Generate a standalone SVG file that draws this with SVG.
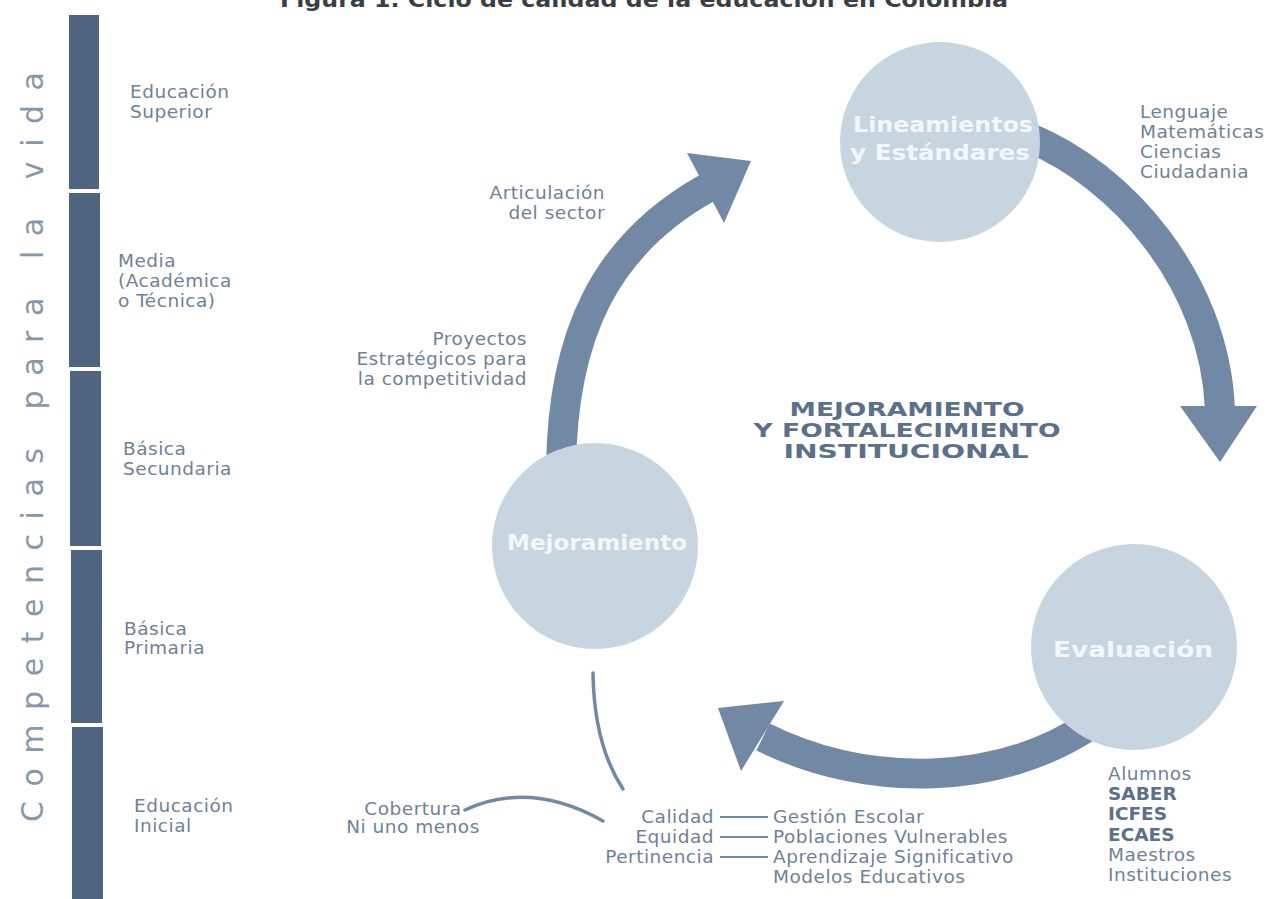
<svg xmlns="http://www.w3.org/2000/svg" width="1274" height="899" viewBox="0 0 1274 899">
<defs>
<style>
.bg{fill:#ffffff}
.bar{fill:#4f6480}
.lbl{font-family:"DejaVu Sans","Liberation Sans",sans-serif;font-size:18.5px;letter-spacing:0.5px;fill:#6e8298}
.lblb{font-family:"DejaVu Sans","Liberation Sans",sans-serif;font-size:18.5px;font-weight:bold;fill:#5b7089}
.vert{font-family:"DejaVu Sans","Liberation Sans",sans-serif;font-size:30px;fill:#8798ac}
.node{fill:#c7d5e1}
.ntxt{font-family:"DejaVu Sans","Liberation Sans",sans-serif;font-size:21px;font-weight:bold;fill:#f4f7fa;text-anchor:middle}
.center{font-family:"DejaVu Sans","Liberation Sans",sans-serif;font-size:20px;font-weight:bold;fill:#5b7089;text-anchor:middle}
.band{fill:none;stroke:#7189a4;stroke-width:30}
.head{fill:#7189a4}
.thin{fill:none;stroke:#7189a4;stroke-width:3.5;stroke-linecap:round}
.dash{stroke:#7189a4;stroke-width:2}
.title{font-family:"DejaVu Sans","Liberation Sans",sans-serif;font-size:22px;font-weight:bold;fill:#3a3f47}
</style>
</defs>
<rect class="bg" x="0" y="0" width="1274" height="899"/>
<text class="title" x="280" y="7" textLength="728" lengthAdjust="spacingAndGlyphs">Figura 1. Ciclo de calidad de la educación en Colombia</text>

<g id="levels">
<rect class="bar" x="69" y="15" width="30" height="174"/>
<rect class="bar" x="69" y="193" width="31" height="174"/>
<rect class="bar" x="70" y="371" width="31" height="175"/>
<rect class="bar" x="71" y="550" width="31" height="173"/>
<rect class="bar" x="72" y="727" width="31" height="172"/>
<text class="vert" transform="translate(43,822) rotate(-90)" x="0" y="0" textLength="750" lengthAdjust="spacing">Competencias para la vida</text>
<text class="lbl" x="130" y="98">Educación</text>
<text class="lbl" x="130" y="118">Superior</text>
<text class="lbl" x="118" y="267">Media</text>
<text class="lbl" x="118" y="287">(Académica</text>
<text class="lbl" x="118" y="307">o Técnica)</text>
<text class="lbl" x="123" y="455">Básica</text>
<text class="lbl" x="123" y="475">Secundaria</text>
<text class="lbl" x="124" y="635">Básica</text>
<text class="lbl" x="124" y="654">Primaria</text>
<text class="lbl" x="134" y="812">Educación</text>
<text class="lbl" x="134" y="832">Inicial</text>
</g>

<g id="connectors">
<path class="band" d="M561,470 C562,335 605,245 707,188"/>
<polygon class="head" points="687,153 751,161 724,223"/>
<path class="band" d="M1030,138 C1120,175 1215,280 1220,410"/>
<polygon class="head" points="1180,406 1257,406 1220,462"/>
<path class="band" d="M1090,725 C1000,785 870,790 763,737"/>
<polygon class="head" points="718,708 784,701 741,771"/>
<path class="thin" d="M593,673 Q594,745 623,789"/>
<path class="thin" d="M465,810 Q530,780 603,821"/>
<line class="dash" x1="720" y1="817" x2="768" y2="817"/>
<line class="dash" x1="720" y1="837" x2="768" y2="837"/>
<line class="dash" x1="720" y1="857" x2="768" y2="857"/>
</g>

<g id="node-lineamientos">
<circle class="node" cx="940" cy="142" r="100"/>
<text class="ntxt" x="943" y="132" textLength="180" lengthAdjust="spacingAndGlyphs">Lineamientos</text>
<text class="ntxt" x="940" y="160" textLength="180" lengthAdjust="spacingAndGlyphs">y Estándares</text>
</g>
<g id="node-mejoramiento">
<circle class="node" cx="595" cy="546" r="103"/>
<text class="ntxt" x="597" y="550" textLength="180" lengthAdjust="spacingAndGlyphs">Mejoramiento</text>
</g>
<g id="node-evaluacion">
<circle class="node" cx="1134" cy="647" r="103"/>
<text class="ntxt" x="1133" y="657" style="font-size:22px" textLength="160" lengthAdjust="spacingAndGlyphs">Evaluación</text>
</g>

<g id="center-label">
<text class="center" x="907" y="416" textLength="235" lengthAdjust="spacingAndGlyphs">MEJORAMIENTO</text>
<text class="center" x="907" y="437" textLength="307" lengthAdjust="spacingAndGlyphs">Y FORTALECIMIENTO</text>
<text class="center" x="906" y="458" textLength="245" lengthAdjust="spacingAndGlyphs">INSTITUCIONAL</text>
</g>

<g id="labels-mejoramiento">
<text class="lbl" x="605" y="199" text-anchor="end">Articulación</text>
<text class="lbl" x="605" y="219" text-anchor="end">del sector</text>
<text class="lbl" x="527" y="345" text-anchor="end">Proyectos</text>
<text class="lbl" x="527" y="365" text-anchor="end">Estratégicos para</text>
<text class="lbl" x="527" y="385" text-anchor="end">la competitividad</text>
</g>

<g id="labels-lineamientos">
<text class="lbl" x="1140" y="118">Lenguaje</text>
<text class="lbl" x="1140" y="138">Matemáticas</text>
<text class="lbl" x="1140" y="158">Ciencias</text>
<text class="lbl" x="1140" y="178">Ciudadania</text>
</g>

<g id="labels-evaluacion">
<text class="lbl" x="1108" y="780">Alumnos</text>
<text class="lblb" x="1108" y="800">SABER</text>
<text class="lblb" x="1108" y="820">ICFES</text>
<text class="lblb" x="1108" y="841">ECAES</text>
<text class="lbl" x="1108" y="861">Maestros</text>
<text class="lbl" x="1108" y="881">Instituciones</text>
</g>

<g id="labels-bottom">
<text class="lbl" x="413" y="815" text-anchor="middle">Cobertura</text>
<text class="lbl" x="413" y="833" text-anchor="middle">Ni uno menos</text>
<text class="lbl" x="714" y="823" text-anchor="end">Calidad</text>
<text class="lbl" x="714" y="843" text-anchor="end">Equidad</text>
<text class="lbl" x="714" y="863" text-anchor="end">Pertinencia</text>
<text class="lbl" x="773" y="823">Gestión Escolar</text>
<text class="lbl" x="773" y="843">Poblaciones Vulnerables</text>
<text class="lbl" x="773" y="863">Aprendizaje Significativo</text>
<text class="lbl" x="773" y="883">Modelos Educativos</text>
</g>
</svg>
